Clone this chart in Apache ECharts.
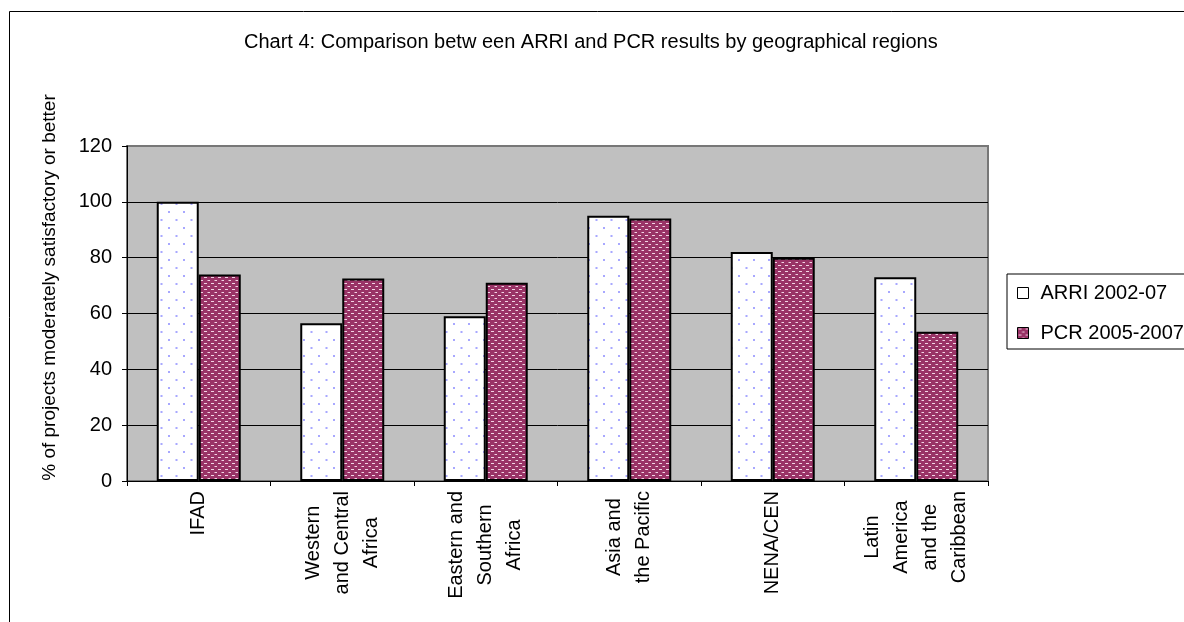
<!DOCTYPE html>
<html>
<head>
<meta charset="utf-8">
<script src="https://cdn.jsdelivr.net/npm/echarts@6/dist/echarts.min.js"></script>
<style>
  html, body { margin: 0; padding: 0; background: #fff; }
  #chart { width: 1184px; height: 622px; }
</style>
</head>
<body>
<div id="chart"></div>
<script>
// Regions (line breaks as shown under the axis)
const categories = [
  'IFAD',
  'Western\nand Central\nAfrica',
  'Eastern and\nSouthern\nAfrica',
  'Asia and\nthe Pacific',
  'NENA/CEN',
  'Latin\nAmerica\nand the\nCaribbean'
];
// % of projects moderately satisfactory or better
const arri = [100, 56.5, 59, 95, 82, 73];
const pcr = [74, 72.5, 71, 94, 80, 53.5];
const seriesNames = ['ARRI 2002-07', 'PCR 2005-2007'];
const yMin = 0, yMax = 120, yStep = 20;

const FONT = '"Liberation Sans", Arial, sans-serif';

// Fill textures for the two series
function dotPattern() {
  const c = document.createElement('canvas');
  c.width = 15; c.height = 16;
  const g = c.getContext('2d');
  g.fillStyle = '#ffffff';
  g.fillRect(0, 0, 15, 16);
  g.fillStyle = '#a8a8ff';
  g.fillRect(3, 3, 2, 2);
  g.fillRect(10.5, 11, 2, 2);
  return { image: c, repeat: 'repeat' };
}
function dashPattern() {
  const c = document.createElement('canvas');
  c.width = 7; c.height = 6;
  const g = c.getContext('2d');
  g.fillStyle = '#993366';
  g.fillRect(0, 0, 7, 6);
  g.fillStyle = '#f2d4e4';
  g.fillRect(1, 1, 3, 1);
  g.fillRect(4.5, 4, 3, 1);
  return { image: c, repeat: 'repeat' };
}
const arriFill = dotPattern();
const pcrFill = dashPattern();

// every line of a category label is centred within its block
const labelRich = {
  c: { align: 'center', fontSize: 20, lineHeight: 29, fontFamily: FONT, color: '#000' }
};

const chart = echarts.init(document.getElementById('chart'), null, { renderer: 'canvas' });

chart.setOption({
  animation: false,
  backgroundColor: '#ffffff',
  textStyle: { fontFamily: FONT },
  title: {
    text: 'Chart 4: Comparison betw een ARRI and PCR results by geographical regions',
    left: 244,
    top: 32,
    padding: 0,
    textStyle: { fontFamily: FONT, fontSize: 20, fontWeight: 'normal', color: '#000' }
  },
  graphic: [{
    type: 'rect',
    silent: true,
    z: -1,
    shape: { x: 9.5, y: 11.5, width: 1300, height: 800 },
    style: { fill: null, stroke: '#000', lineWidth: 1 }
  }],
  legend: {
    orient: 'vertical',
    left: 1007,
    top: 274,
    padding: [9, 40, 6, 10],
    itemGap: 20,
    itemWidth: 11,
    itemHeight: 11,
    icon: 'rect',
    backgroundColor: '#ffffff',
    borderColor: '#000',
    borderWidth: 1,
    borderRadius: 0,
    textStyle: { fontFamily: FONT, fontSize: 20, color: '#000', padding: [0, 0, 0, 7] },
    data: [
      { name: seriesNames[0], itemStyle: { color: '#ffffff', borderColor: '#000', borderWidth: 1 } },
      { name: seriesNames[1], itemStyle: { color: pcrFill, borderColor: '#000', borderWidth: 1 } }
    ]
  },
  grid: {
    left: 127,
    right: 196,
    top: 146,
    bottom: 141,
    show: true,
    backgroundColor: '#c0c0c0',
    borderColor: '#777777',
    borderWidth: 2
  },
  xAxis: {
    type: 'category',
    data: categories,
    boundaryGap: true,
    axisLine: { show: true, lineStyle: { color: '#000', width: 1 } },
    axisTick: { show: true, length: 5, lineStyle: { color: '#000' } },
    axisLabel: {
      interval: 0,
      rotate: 90,
      margin: 10,
      fontFamily: FONT,
      fontSize: 20,
      color: '#000',
      rich: labelRich,
      formatter: function (v) {
        return v.split('\n').map(function (l) { return '{c|' + l + '}'; }).join('\n');
      }
    },
    splitLine: { show: false }
  },
  yAxis: {
    type: 'value',
    min: yMin,
    max: yMax,
    interval: yStep,
    name: '% of projects moderately satisfactory or better',
    nameLocation: 'middle',
    nameGap: 68,
    nameTextStyle: { fontFamily: FONT, fontSize: 19, color: '#000', padding: [0, 0, 0, 52] },
    axisLine: { show: true, lineStyle: { color: '#000', width: 1 } },
    axisTick: { show: true, length: 5, lineStyle: { color: '#000' } },
    axisLabel: { margin: 15, fontFamily: FONT, fontSize: 20, color: '#000' },
    splitLine: {
      show: true,
      lineStyle: {
        color: ['#000', '#000', '#000', '#000', '#000', '#000', '#777777'],
        width: 1
      }
    }
  },
  series: [
    {
      name: seriesNames[0],
      type: 'bar',
      data: arri,
      barWidth: 42,
      barGap: '0%',
      itemStyle: { color: arriFill, borderColor: '#000', borderWidth: 2 }
    },
    {
      name: seriesNames[1],
      type: 'bar',
      data: pcr,
      barWidth: 42,
      barGap: '0%',
      itemStyle: { color: pcrFill, borderColor: '#000', borderWidth: 2 }
    }
  ]
});
</script>
</body>
</html>
